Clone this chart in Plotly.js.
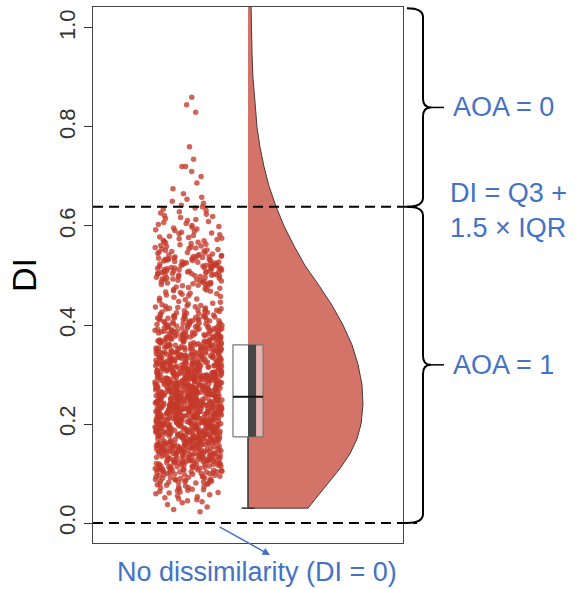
<!DOCTYPE html>
<html><head><meta charset="utf-8">
<script src="https://cdn.plot.ly/plotly-3.0.1.min.js"></script>
<style>html,body{margin:0;padding:0;background:#fff}</style>
</head><body><div id="chart" style="width:580px;height:589px"></div>
<script>
// ---- data ----
const binStarts = [0.02,0.04,0.06,0.08,0.10,0.12,0.14,0.16,0.18,0.20,0.22,0.24,0.26,0.28,0.30,0.32,0.34,0.36,0.38,0.40,0.42,0.44,0.46,0.48,0.50,0.52,0.54,0.56,0.58,0.60,0.62,0.64];
const binCounts = [4,10,18,30,45,56,64,70,75,80,84,86,80,76,70,64,56,50,44,36,24,12,16,26,36,32,20,15,12,10,8,5];
const outlierDI = [0.665,0.675,0.687,0.70,0.71,0.72,0.72,0.735,0.76,0.83,0.845,0.86];
const q1Val = 0.174, medianVal = 0.255, q3Val = 0.36, minVal = 0.03;
const violinDI = [0.03,0.05,0.08,0.11,0.14,0.17,0.20,0.24,0.28,0.32,0.36,0.40,0.44,0.48,0.52,0.56,0.60,0.64,0.68,0.72,0.76,0.80,0.85,0.90,0.95,1.05];
const violinDensity = [0.522,0.591,0.696,0.80,0.887,0.948,0.983,1.0,0.991,0.957,0.904,0.826,0.73,0.617,0.496,0.40,0.313,0.243,0.183,0.139,0.104,0.078,0.061,0.043,0.035,0.026];
const tickVals = [0,0.2,0.4,0.6,0.8,1.0];
const tickText = ["0.0","0.2","0.4","0.6","0.8","1.0"];

// ---- build ----
const pointsDI = [];
binStarts.forEach((b,i)=>{ const n=binCounts[i]; for(let k=0;k<n;k++) pointsDI.push(b+(k+0.5)/n*0.02); });
outlierDI.forEach(v=>pointsDI.push(v));
const threshold = q3Val + 1.5*(q3Val-q1Val);

const boxX = 5.0, boxW = 0.97, violinScale = 3.71, ptsX = 3.08, ptsW = 2.16, bandW = 0.26, capW = 0.42;
const vx = [boxX].concat(violinDensity.map(d=>boxX+d*violinScale)).concat([boxX]);
const vy = [violinDI[0]].concat(violinDI).concat([violinDI[violinDI.length-1]]);
const bl = boxX-boxW/2, br = boxX+boxW/2;

const traces = [
  {type:'box', y:pointsDI, x0:ptsX, width:ptsW, boxpoints:'all', jitter:1, pointpos:0,
   marker:{color:'rgb(196,58,42)', size:5.5, opacity:0.78}, line:{width:0, color:'rgba(0,0,0,0)'}, fillcolor:'rgba(0,0,0,0)', showlegend:false},
  {type:'scatter', x:vx, y:vy, mode:'lines', fill:'toself', fillcolor:'rgb(212,116,104)', line:{color:'#4a3a38', width:1}, hoverinfo:'skip', showlegend:false},
  {type:'scatter', x:[boxX,boxX,null,boxX-capW/2,boxX+capW/2], y:[q1Val,minVal,null,minVal,minVal], mode:'lines', line:{color:'#333', width:1.5}, showlegend:false, hoverinfo:'skip'},
  {type:'scatter', x:[bl,br,br,bl,bl], y:[q1Val,q1Val,q3Val,q3Val,q1Val], mode:'lines', fill:'toself', fillcolor:'rgba(255,255,255,0.45)', line:{color:'#777', width:1.2}, showlegend:false, hoverinfo:'skip'},
  {type:'scatter', x:[boxX,boxX+bandW,boxX+bandW,boxX,boxX], y:[q1Val,q1Val,q3Val,q3Val,q1Val], mode:'lines', fill:'toself', fillcolor:'#474747', line:{width:0, color:'#474747'}, showlegend:false, hoverinfo:'skip'},
  {type:'scatter', x:[bl, br], y:[medianVal, medianVal], mode:'lines', line:{color:'#111', width:2}, showlegend:false, hoverinfo:'skip'}
];

const xTip = 1.0129, xV = 1.0645, xCusp = 1.0903, r = 0.018;
function brace(yTop, yBot){
  const yMid = (yTop+yBot)/2;
  return `M ${xTip},${yTop} Q ${xV},${yTop} ${xV},${yTop-r} L ${xV},${yMid+r} Q ${xV},${yMid} ${xCusp},${yMid} Q ${xV},${yMid} ${xV},${yMid-r} L ${xV},${yBot+r} Q ${xV},${yBot} ${xTip},${yBot}`;
}
const blue = '#4472C4';
const font = 'Liberation Sans, Arial, sans-serif';
const layout = {
  width:580, height:589, margin:{l:93, r:177, t:7, b:46}, paper_bgcolor:'#fff', plot_bgcolor:'#fff',
  showlegend:false, font:{family:font},
  xaxis:{range:[0,10], showgrid:false, zeroline:false, showticklabels:false, ticks:'', showline:true, mirror:true, linecolor:'#444', linewidth:1},
  yaxis:{range:[-0.0404,1.0424], showgrid:false, zeroline:false, tickvals:tickVals, ticktext:tickText, ticks:'outside', ticklen:8, tickcolor:'#333',
    tickangle:-90, tickfont:{size:22, color:'#333', family:font}, showline:true, mirror:true, linecolor:'#444', linewidth:1, automargin:false,
    title:{text:'DI', font:{size:34, color:'#000', family:font}, standoff:8}},
  shapes:[
    {type:'line', xref:'paper', yref:'y', x0:0, x1:1.045, y0:threshold, y1:threshold, line:{color:'#000', width:2, dash:'10px,6px'}},
    {type:'line', xref:'paper', yref:'y', x0:0, x1:1.045, y0:0, y1:0, line:{color:'#000', width:2, dash:'10px,6px'}},
    {type:'path', xref:'paper', yref:'y', path:brace(1.04, threshold), line:{color:'#000', width:2}},
    {type:'path', xref:'paper', yref:'y', path:brace(threshold, 0), line:{color:'#000', width:2}},
    {type:'line', xref:'paper', yref:'y', x0:xCusp, x1:1.132, y0:(1.04+threshold)/2, y1:(1.04+threshold)/2, line:{color:'#000', width:1.5}},
    {type:'line', xref:'paper', yref:'y', x0:xCusp, x1:1.132, y0:threshold/2, y1:threshold/2, line:{color:'#000', width:1.5}}
  ],
  annotations:[
    {xref:'paper', yref:'y', x:1.155, y:(1.04+threshold)/2, xanchor:'left', yanchor:'middle', text:'AOA = 0', showarrow:false, font:{size:27, color:blue, family:font}},
    {xref:'paper', yref:'y', x:1.145, y:0.632, xanchor:'left', yanchor:'middle', align:'left', text:'DI = Q3 +<br>1.5 × IQR', showarrow:false, font:{size:27, color:blue, family:font}},
    {xref:'paper', yref:'y', x:1.155, y:threshold/2, xanchor:'left', yanchor:'middle', text:'AOA = 1', showarrow:false, font:{size:27, color:blue, family:font}},
    {xref:'paper', yref:'paper', x:0.529, y:-0.054, xanchor:'center', yanchor:'middle', text:'No dissimilarity (DI = 0)', showarrow:false, font:{size:27, color:blue, family:font}},
    {xref:'paper', yref:'paper', x:0.571, y:-0.0224, text:'', showarrow:true, arrowhead:2, arrowsize:1, arrowwidth:1.5, arrowcolor:blue, ax:-52, ay:-29}
  ]
};
Plotly.newPlot('chart', traces, layout, {staticPlot:true});
</script></body></html>
